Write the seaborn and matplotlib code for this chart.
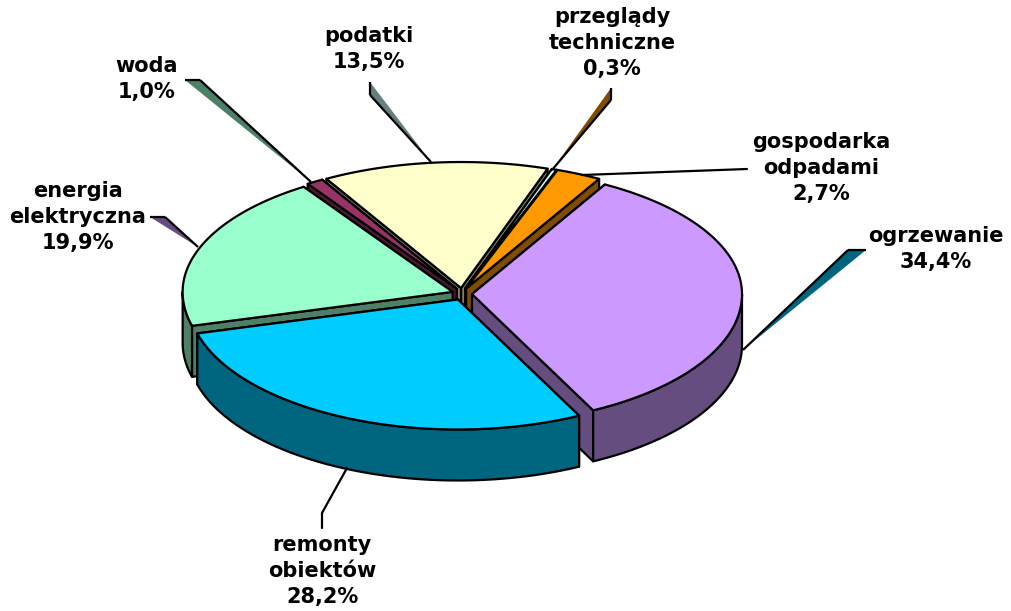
import numpy as np
import matplotlib
matplotlib.use("Agg")
import matplotlib.pyplot as plt
import seaborn as sns

# Data (clockwise, starting at the purple slice)
names = ["ogrzewanie", "remonty\nobiektów", "energia\nelektryczna", "woda",
         "podatki", "przeglądy\ntechniczne", "gospodarka\nodpadami"]
values = [34.4, 28.2, 19.9, 1.0, 13.5, 0.3, 2.7]
top_colors = ["#CC99FF", "#00CCFF", "#99FFCC", "#993366", "#FFFFCC", "#CCFFFF", "#FF9900"]

# Layout, pixels of the 1011x611 canvas
CENTER = (462, 294)
RX = 270
RY_BACK, RY_FRONT = 126, 130
DEPTH = 51
EXPLODE = 10
START = 29.5
LW = 1.6
label_pos = [(936, 249), (322, 571), (78, 217), (147, 79), (369, 49), (612, 43), (821, 168)]

# back slices first, so the front ones paint over them
draw_order = [4, 3, 5, 6, 2, 0, 1]

# callouts: filled shard + outline, then plain lines
shards = [
    ([(743, 350), (848, 250), (866, 250)], "#006680"),
    ([(198, 247), (165, 217), (150, 217)], "#664C80"),
    ([(311, 182), (200, 80), (185, 80)], "#4C8066"),
    ([(431, 162), (370, 95), (370, 82)], "#668080"),
    ([(552, 170), (611, 100), (611, 88)], "#804C00"),
]
plain_lines = [
    [(582, 175), (747, 169)],
    [(347, 468), (322, 513), (322, 528)],
]


def ellipse_xy(apex, theta):
    # theta in degrees, clockwise from the top of the ellipse
    t = np.radians(theta)
    c = np.cos(t)
    ry = np.where(c > 0, RY_BACK, RY_FRONT)
    return apex[0] + RX * np.sin(t), apex[1] - ry * c


def main():
    sns.set_theme(style="white")
    plt.rcParams["font.family"] = ["DejaVu Sans"]
    fig, ax = plt.subplots(figsize=(10.11, 6.11), dpi=100)
    ax.set_position([0, 0, 1, 1])
    ax.set_xlim(0, 1011)
    ax.set_ylim(611, 0)
    ax.axis("off")

    palette = sns.color_palette(top_colors)
    side_colors = [tuple(np.array(c) * 0.5) for c in palette]

    spans = np.array(values) / sum(values) * 360
    starts = START + np.concatenate([[0], np.cumsum(spans)[:-1]])

    for i, color, side in [(k, palette[k], side_colors[k]) for k in draw_order]:
        a0, a1 = starts[i], starts[i] + spans[i]
        mid = np.radians((a0 + a1) / 2)
        apex = (CENTER[0] + EXPLODE * np.sin(mid), CENTER[1] - EXPLODE * np.cos(mid) * 0.6)
        style = dict(edgecolor="black", linewidth=LW, joinstyle="round")

        # radial walls, the one nearer the viewer last
        walls = sorted((a0, a1), key=lambda a: ellipse_xy(apex, a)[1])
        for a in walls:
            x, y = ellipse_xy(apex, a)
            ax.fill([apex[0], x, x, apex[0]], [apex[1], y, y + DEPTH, apex[1] + DEPTH],
                    facecolor=side, **style)

        # outer rim, only the part facing the viewer
        lo, hi = max(a0, 90), min(a1, 270)
        if lo < hi:
            th = np.linspace(lo, hi, 120)
            x, y = ellipse_xy(apex, th)
            ax.fill(np.r_[x, x[::-1]], np.r_[y, y[::-1] + DEPTH], facecolor=side, **style)

        # top face
        th = np.linspace(a0, a1, 200)
        x, y = ellipse_xy(apex, th)
        ax.fill(np.r_[apex[0], x], np.r_[apex[1], y], facecolor=color, **style)

    for poly, color in shards:
        px, py = zip(*poly)
        ax.fill(px, py, facecolor=color, edgecolor="none")
        ax.plot(px[:2], py[:2], color="black", lw=LW, solid_capstyle="butt")
        ax.plot(px[1:], py[1:], color="black", lw=LW, solid_capstyle="butt")
    for line in plain_lines:
        lx, ly = zip(*line)
        ax.plot(lx, ly, color="black", lw=LW)

    for name, value, (lx, ly) in zip(names, values, label_pos):
        text = f"{name}\n{value:.1f}%".replace(".", ",")
        ax.text(lx, ly, text, ha="center", va="center", fontsize=15,
                fontweight="bold", color="black", linespacing=1.37)

    fig.savefig("out.png", dpi=100)


if __name__ == "__main__":
    main()
